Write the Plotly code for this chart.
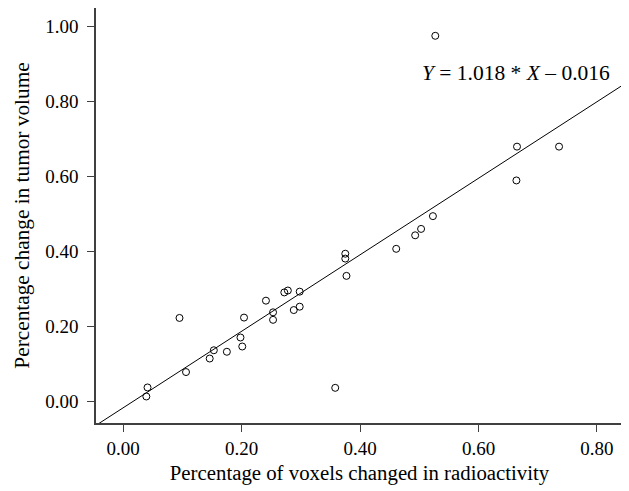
import plotly.graph_objects as go

# Data
voxels_changed = [0.095, 0.204, 0.198, 0.201, 0.153, 0.146, 0.175, 0.106, 0.041, 0.039,
                  0.375, 0.375, 0.377, 0.241, 0.272, 0.278, 0.298, 0.298, 0.288, 0.253,
                  0.253, 0.461, 0.358, 0.527, 0.665, 0.736, 0.664, 0.523, 0.503, 0.493]
volume_change = [0.223, 0.224, 0.171, 0.147, 0.137, 0.115, 0.133, 0.079, 0.038, 0.014,
                 0.394, 0.381, 0.335, 0.269, 0.291, 0.296, 0.293, 0.253, 0.244, 0.238,
                 0.218, 0.407, 0.037, 0.974, 0.679, 0.679, 0.589, 0.494, 0.460, 0.443]

slope = 1.018
intercept = -0.016

x_ticks = [0.0, 0.2, 0.4, 0.6, 0.8]
x_tick_labels = ["0.00", "0.20", "0.40", "0.60", "0.80"]
y_ticks = [0.0, 0.2, 0.4, 0.6, 0.8, 1.0]
y_tick_labels = ["0.00", "0.20", "0.40", "0.60", "0.80", "1.00"]

x_range = [-0.046, 0.844]
y_range = [-0.0566, 1.048]

FONT = "Liberation Serif, Times New Roman, serif"
AX = "#404040"

fit_x = [x_range[0] - 0.05, x_range[1] + 0.05]
fit_y = [slope * v + intercept for v in fit_x]

fig = go.Figure()
fig.add_trace(go.Scatter(x=fit_x, y=fit_y, mode="lines",
                         line=dict(color="black", width=1), showlegend=False,
                         hoverinfo="skip"))
fig.add_trace(go.Scatter(x=voxels_changed, y=volume_change, mode="markers",
                         marker=dict(symbol="circle-open", size=7,
                                     line=dict(color="black", width=1), color="black"),
                         showlegend=False))

fig.add_annotation(x=0.826, y=0.876, xref="x", yref="y",
                   text="<i>Y</i> = 1.018 * <i>X</i> \u2013 0.016",
                   showarrow=False, xanchor="right", yanchor="middle",
                   font=dict(family=FONT, size=21.5, color="black"))

fig.update_layout(
    width=621, height=483,
    margin=dict(l=88, r=6, t=0, b=68),
    paper_bgcolor="white", plot_bgcolor="white",
    font=dict(family=FONT, size=19, color="black"),
)
fig.update_xaxes(range=x_range, tickvals=x_ticks, ticktext=x_tick_labels,
                 showgrid=False, zeroline=False, showline=True, mirror=True,
                 linecolor=AX, linewidth=1.5, ticks="outside", ticklen=7,
                 tickcolor=AX, tickfont=dict(family=FONT, size=19),
                 automargin=False,
                 title=dict(text="Percentage of voxels changed in radioactivity",
                            font=dict(family=FONT, size=20.8), standoff=8))
fig.update_yaxes(range=y_range, tickvals=y_ticks, ticktext=y_tick_labels,
                 showgrid=False, zeroline=False, showline=True, mirror=True,
                 linecolor=AX, linewidth=1.5, ticks="outside", ticklen=7,
                 tickcolor=AX, tickfont=dict(family=FONT, size=19),
                 ticklabelstandoff=5, automargin=False,
                 title=dict(text="Percentage change in tumor volume",
                            font=dict(family=FONT, size=21.3), standoff=10))

fig.write_html("out.html")
